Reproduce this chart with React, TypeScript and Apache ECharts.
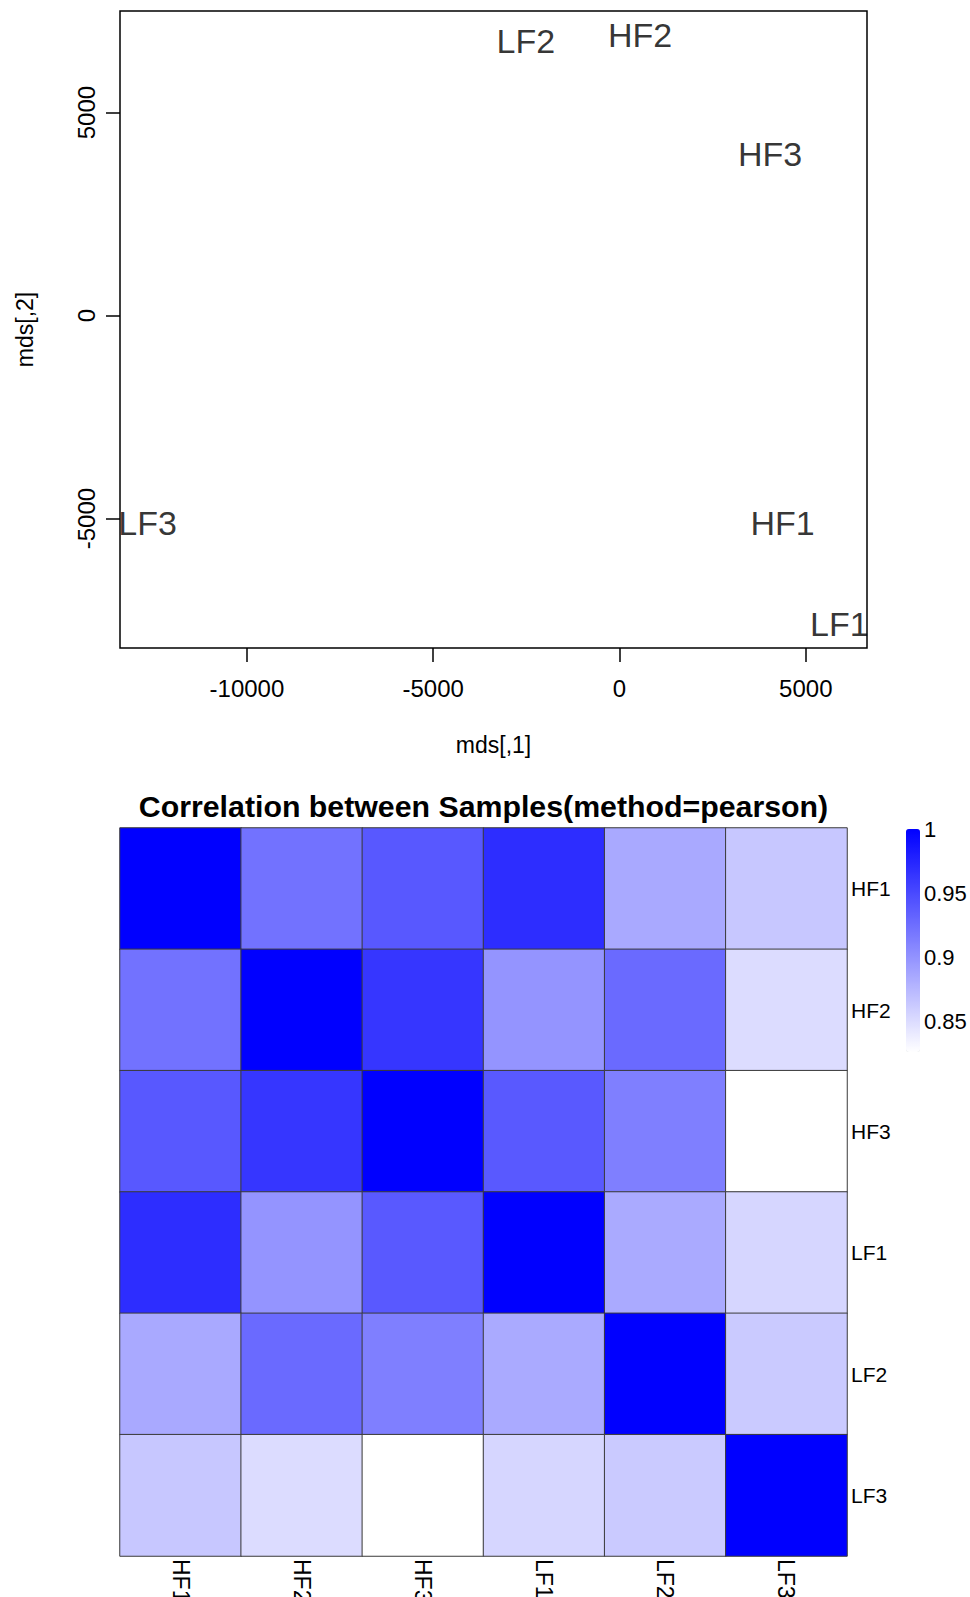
import React, { useEffect, useRef } from "react";
import * as echarts from "echarts";

const FONT = '"Liberation Sans", Arial, Helvetica, sans-serif';

// Classical MDS coordinates of the samples
const mdsSamples = ["HF1", "HF2", "HF3", "LF1", "LF2", "LF3"];
const mdsDim1 = [4375, 550, 4039, 5900, -2515, -12664];
const mdsDim2 = [-5099, 6920, 3967, -7607, 6758, -5099];
const mdsTicks = [-10000, -5000, 0, 5000];

// Pearson correlation matrix, one row per sample
const samples = ["HF1", "HF2", "HF3", "LF1", "LF2", "LF3"];
const corHF1 = [1, 0.922, 0.94, 0.969, 0.885, 0.864];
const corHF2 = [0.922, 1, 0.963, 0.899, 0.928, 0.85];
const corHF3 = [0.94, 0.963, 1, 0.939, 0.913, 0.826];
const corLF1 = [0.969, 0.899, 0.939, 1, 0.884, 0.854];
const corLF2 = [0.885, 0.928, 0.913, 0.884, 1, 0.862];
const corLF3 = [0.864, 0.85, 0.826, 0.854, 0.862, 1];
const legendTicks = [0.85, 0.9, 0.95, 1];

const corRows = [corHF1, corHF2, corHF3, corLF1, corLF2, corLF3];

export default function App() {
  const ref = useRef<HTMLDivElement>(null);

  useEffect(() => {
    if (!ref.current) return;
    const chart = echarts.init(ref.current, null, { renderer: "svg" });

    const heatData: number[][] = [];
    corRows.forEach((row, yi) => {
      row.forEach((v, xi) => heatData.push([xi, yi, v]));
    });
    const allValues = corRows.flat();
    const cMin = Math.min(...allValues);
    const cMax = Math.max(...allValues);

    // R-style 4% padding around the data range
    const padMin = (e: { min: number; max: number }) => e.min - 0.04 * (e.max - e.min);
    const padMax = (e: { min: number; max: number }) => e.max + 0.04 * (e.max - e.min);
    const plain = (v: number) => String(v);

    const black = "#000";

    chart.setOption({
      animation: false,
      textStyle: { fontFamily: FONT },
      title: {
        text: "Correlation between Samples(method=pearson)",
        left: 478.5,
        top: 786,
        textAlign: "center",
        textStyle: { fontSize: 30.3, fontWeight: "bold", color: black, fontFamily: FONT },
      },
      grid: [
        {
          left: 120,
          top: 11,
          width: 747,
          height: 637,
          show: true,
          borderColor: black,
          borderWidth: 1.5,
          backgroundColor: "transparent",
          outerBoundsMode: "none",
        },
        { left: 120, top: 828, width: 727, height: 728, outerBoundsMode: "none" },
        { left: 906, top: 829, width: 14, height: 223, outerBoundsMode: "none" },
      ],
      xAxis: [
        {
          gridIndex: 0,
          type: "value",
          min: padMin,
          max: padMax,
          name: "mds[,1]",
          nameLocation: "middle",
          nameGap: 85,
          nameTextStyle: { fontSize: 23, color: black, fontFamily: FONT },
          axisLine: { show: false, onZero: false },
          axisTick: {
            show: true,
            length: 14,
            customValues: mdsTicks,
            lineStyle: { color: black, width: 1.5 },
          },
          axisLabel: {
            customValues: mdsTicks,
            fontSize: 24,
            color: black,
            margin: 28,
            fontFamily: FONT,
            formatter: plain,
          },
          splitLine: { show: false },
        },
        {
          gridIndex: 1,
          type: "category",
          data: samples,
          position: "bottom",
          axisLine: { show: false },
          axisTick: { show: false },
          axisLabel: {
            rotate: -90,
            fontSize: 23,
            color: black,
            margin: 3,
            interval: 0,
            fontFamily: FONT,
          },
          splitLine: { show: false },
        },
        { gridIndex: 2, type: "value", show: false, min: 0, max: 1 },
      ],
      yAxis: [
        {
          gridIndex: 0,
          type: "value",
          min: padMin,
          max: padMax,
          name: "mds[,2]",
          nameLocation: "middle",
          nameGap: 84,
          nameRotate: 90,
          nameTextStyle: { fontSize: 23, color: black, fontFamily: FONT },
          axisLine: { show: false, onZero: false },
          axisTick: {
            show: true,
            length: 14,
            customValues: mdsTicks,
            lineStyle: { color: black, width: 1.5 },
          },
          axisLabel: {
            customValues: mdsTicks,
            rotate: 90,
            fontSize: 24,
            color: black,
            margin: 22,
            fontFamily: FONT,
            formatter: plain,
          },
          splitLine: { show: false },
        },
        {
          gridIndex: 1,
          type: "category",
          data: samples,
          inverse: true,
          position: "right",
          axisLine: { show: false },
          axisTick: { show: false },
          axisLabel: { fontSize: 21, color: black, margin: 4, interval: 0, fontFamily: FONT },
          splitLine: { show: false },
        },
        {
          gridIndex: 2,
          type: "value",
          min: cMin,
          max: cMax,
          position: "right",
          axisLine: { show: false },
          axisTick: { show: false },
          splitLine: { show: false },
          axisLabel: {
            customValues: legendTicks,
            fontSize: 22,
            color: black,
            margin: 4,
            fontFamily: FONT,
            formatter: plain,
          },
        },
      ],
      visualMap: {
        type: "continuous",
        seriesIndex: 1,
        min: cMin,
        max: cMax,
        inRange: { color: ["#ffffff", "#0000ff"] },
        calculable: false,
        orient: "vertical",
        left: 906,
        top: 829,
        itemWidth: 14,
        itemHeight: 223,
        padding: 0,
        hoverLink: false,
      },
      series: [
        {
          type: "scatter",
          xAxisIndex: 0,
          yAxisIndex: 0,
          symbolSize: 1,
          itemStyle: { color: "rgba(0,0,0,0)" },
          data: mdsSamples.map((n, i) => ({ name: n, value: [mdsDim1[i], mdsDim2[i]] })),
          label: {
            show: true,
            position: "inside",
            formatter: "{b}",
            fontSize: 34,
            color: black,
            fontFamily: FONT,
          },
        },
        {
          type: "heatmap",
          xAxisIndex: 1,
          yAxisIndex: 1,
          data: heatData,
          itemStyle: { borderColor: "#3a3a3a", borderWidth: 1 },
          emphasis: { disabled: true },
        },
        {
          type: "scatter",
          xAxisIndex: 2,
          yAxisIndex: 2,
          data: [],
        },
      ],
    });

    return () => chart.dispose();
  }, []);

  return (
    <div
      ref={ref}
      style={{ position: "absolute", left: 0, top: 0, width: 970, height: 1597, background: "#fff" }}
    />
  );
}
